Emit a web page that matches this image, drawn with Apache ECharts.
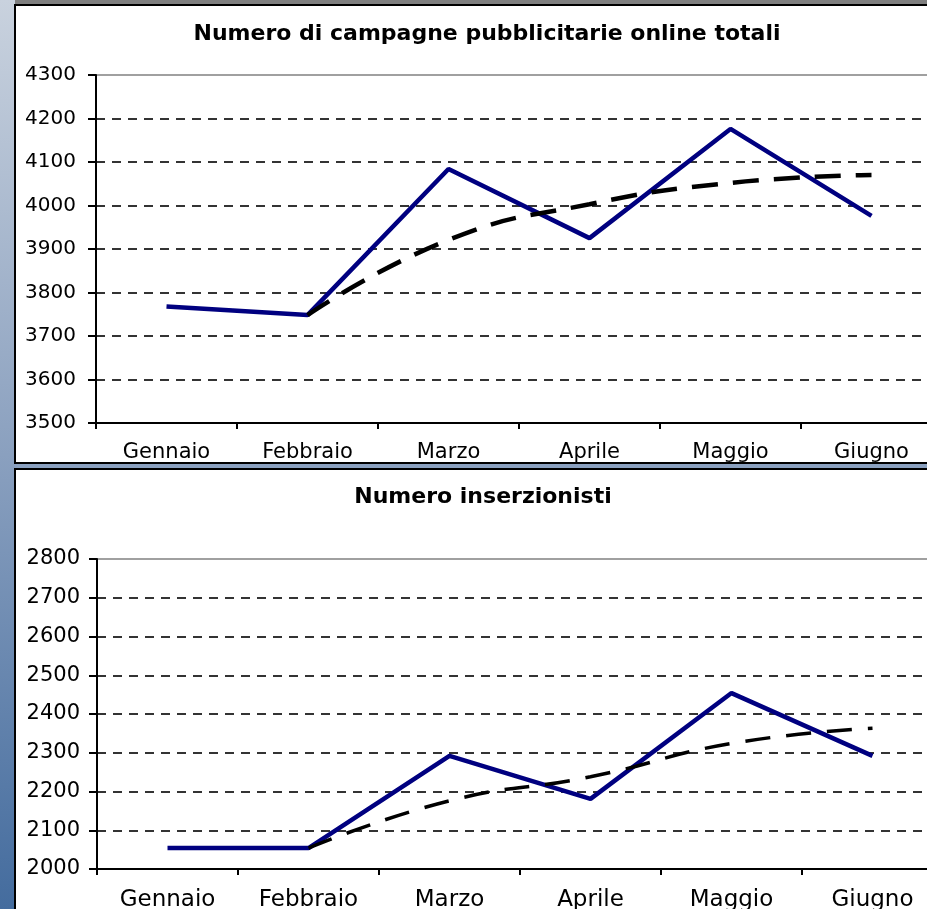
<!DOCTYPE html>
<html>
<head>
<meta charset="utf-8">
<script src="https://cdn.jsdelivr.net/npm/echarts@6/dist/echarts.min.js"></script>
<style>
  html, body { margin: 0; padding: 0; background: #ffffff; }
  #chart { width: 927px; height: 909px; }
</style>
</head>
<body>
<div id="chart"></div>
<script>
// months on the x axis
var months = ['Gennaio', 'Febbraio', 'Marzo', 'Aprile', 'Maggio', 'Giugno'];

// top chart: total online campaigns + trend line
var campagne = [3768, 3748, 4084, 3925, 4176, 3976];
var campagneTrend = [null, 3748, 3921, 4003, 4052, 4070];

// bottom chart: number of advertisers + trend line
var inserzionisti = [2054, 2054, 2292, 2181, 2454, 2292];
var inserzionistiTrend = [null, 2054, 2176, 2238, 2324, 2363];

var titles = ['Numero di campagne pubblicitarie online totali', 'Numero inserzionisti'];

var myChart = echarts.init(document.getElementById('chart'));

function yAxisFor(idx, min, max, size) {
  return {
    type: 'value',
    gridIndex: idx,
    min: min,
    max: max,
    interval: 100,
    axisLine: { show: true, lineStyle: { color: '#000', width: 2 } },
    axisTick: { show: true, length: 8, lineStyle: { color: '#000', width: 2 } },
    axisLabel: {
      color: '#000',
      fontFamily: 'DejaVu Sans',
      fontSize: size,
      margin: idx === 0 ? 20 : 17,
      formatter: function (v) { return String(v); }
    },
    splitLine: {
      show: true,
      showMinLine: false,
      showMaxLine: false,
      lineStyle: { color: '#333', width: 2, type: [9, 7] }
    }
  };
}

function xAxisFor(idx, size, margin) {
  return {
    type: 'category',
    gridIndex: idx,
    data: months,
    boundaryGap: true,
    axisLine: { show: true, lineStyle: { color: '#000', width: 2 } },
    axisTick: { show: true, interval: 0, length: 6, lineStyle: { color: '#000', width: 2 } },
    axisLabel: {
      color: '#000',
      fontFamily: 'DejaVu Sans',
      fontSize: size,
      margin: margin,
      interval: 0
    },
    splitLine: { show: false }
  };
}

var option = {
  animation: false,
  backgroundColor: '#ffffff',
  graphic: [
    { type: 'rect', z: -10, shape: { x: 0, y: 0, width: 927, height: 6 }, style: { fill: '#7f7f7f' } },
    {
      type: 'rect', z: -10, shape: { x: 0, y: 0, width: 15, height: 909 },
      style: {
        fill: new echarts.graphic.LinearGradient(0, 0, 0, 1, [
          { offset: 0, color: '#c9d2de' },
          { offset: 0.5, color: '#8aa0bf' },
          { offset: 1, color: '#446c9e' }
        ])
      }
    },
    { type: 'rect', z: -9, shape: { x: 15, y: 5, width: 950, height: 458 }, style: { fill: '#fff', stroke: '#000', lineWidth: 2 } },
    { type: 'rect', z: -9, shape: { x: 15, y: 464, width: 950, height: 4 }, style: { fill: '#8ba1c0' } },
    { type: 'rect', z: -9, shape: { x: 15, y: 469, width: 950, height: 460 }, style: { fill: '#fff', stroke: '#000', lineWidth: 2 } }
  ],
  title: [
    {
      text: titles[0],
      left: 482,
      top: 18,
      textAlign: 'center',
      textStyle: { fontFamily: 'DejaVu Sans', fontWeight: 'bold', fontSize: 22, color: '#000' }
    },
    {
      text: titles[1],
      left: 478,
      top: 481,
      textAlign: 'center',
      textStyle: { fontFamily: 'DejaVu Sans', fontWeight: 'bold', fontSize: 22, color: '#000' }
    }
  ],
  grid: [
    { left: 96, top: 75, width: 846, height: 348, outerBoundsMode: 'none', show: true, borderColor: '#a0a0a0', borderWidth: 2, backgroundColor: 'transparent' },
    { left: 97, top: 559, width: 846, height: 310, outerBoundsMode: 'none', show: true, borderColor: '#a0a0a0', borderWidth: 2, backgroundColor: 'transparent' }
  ],
  xAxis: [xAxisFor(0, 21, 19), xAxisFor(1, 23, 20)],
  yAxis: [yAxisFor(0, 3500, 4300, 20), yAxisFor(1, 2000, 2800, 21)],
  series: [
    {
      name: 'Campagne',
      type: 'line',
      xAxisIndex: 0, yAxisIndex: 0,
      data: campagne,
      symbol: 'none',
      lineStyle: { color: '#000080', width: 4.5 },
      z: 3
    },
    {
      name: 'Tendenza campagne',
      type: 'line',
      xAxisIndex: 0, yAxisIndex: 0,
      data: campagneTrend,
      symbol: 'none',
      smooth: true,
      lineStyle: { color: '#000', width: 4.5, type: [26, 15] },
      z: 4
    },
    {
      name: 'Inserzionisti',
      type: 'line',
      xAxisIndex: 1, yAxisIndex: 1,
      data: inserzionisti,
      symbol: 'none',
      lineStyle: { color: '#000080', width: 4.5 },
      z: 3
    },
    {
      name: 'Tendenza inserzionisti',
      type: 'line',
      xAxisIndex: 1, yAxisIndex: 1,
      data: inserzionistiTrend,
      symbol: 'none',
      smooth: true,
      lineStyle: { color: '#000', width: 3.5, type: [25, 16] },
      z: 4
    }
  ]
};

myChart.setOption(option);
</script>
</body>
</html>
